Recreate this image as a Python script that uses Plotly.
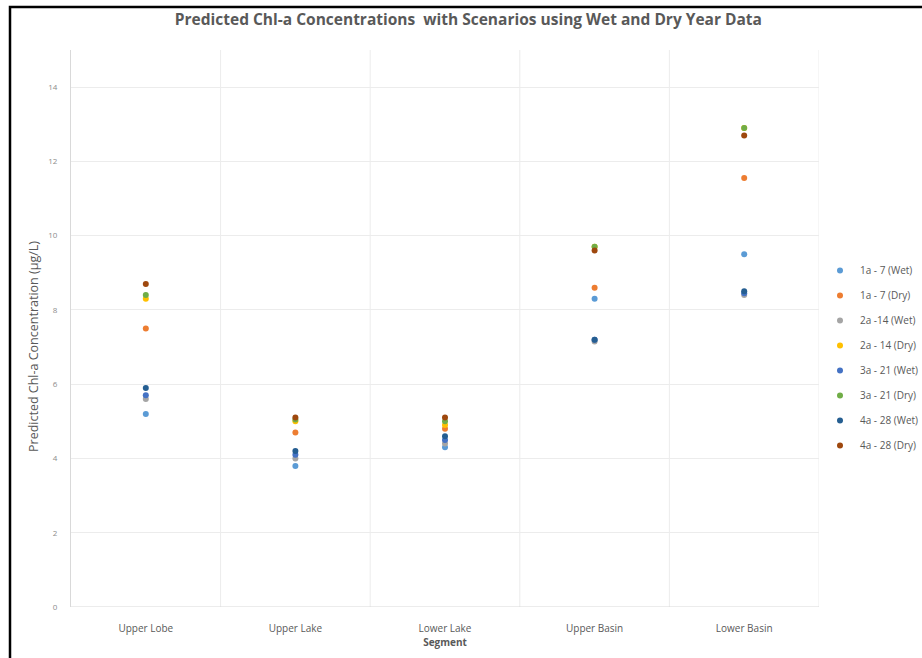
import plotly.graph_objects as go

segments = ["Upper Lobe", "Upper Lake", "Lower Lake", "Upper Basin", "Lower Basin"]

series_names = [
    "1a - 7 (Wet)", "1a - 7 (Dry)", "2a -14 (Wet)", "2a - 14 (Dry)",
    "3a - 21 (Wet)", "3a - 21 (Dry)", "4a - 28 (Wet)", "4a - 28 (Dry)",
]

s1a_wet = [5.2, 3.8, 4.3, 8.3, 9.5]
s1a_dry = [7.5, 4.7, 4.8, 8.6, 11.55]
s2a_wet = [5.6, 4.0, 4.4, 7.15, 8.4]
s2a_dry = [8.3, 5.0, 4.9, 9.7, 12.9]
s3a_wet = [5.7, 4.1, 4.5, 7.2, 8.45]
s3a_dry = [8.4, 5.05, 5.0, 9.7, 12.9]
s4a_wet = [5.9, 4.2, 4.6, 7.2, 8.5]
s4a_dry = [8.7, 5.1, 5.1, 9.6, 12.7]

series_values = [s1a_wet, s1a_dry, s2a_wet, s2a_dry, s3a_wet, s3a_dry, s4a_wet, s4a_dry]
colors = ["#5B9BD5", "#ED7D31", "#A5A5A5", "#FFC000",
          "#4472C4", "#70AD47", "#255E91", "#9E480E"]

y_ticks = [0, 2, 4, 6, 8, 10, 12, 14]

fig = go.Figure()
for i, (name, vals, col) in enumerate(zip(series_names, series_values, colors)):
    fig.add_trace(go.Scatter(
        x=segments, y=vals, mode="markers", name=name,
        legendgroup=f"g{i}",
        marker=dict(color=col, size=6, symbol="circle"),
    ))

font_main = "Open Sans, Liberation Sans, sans-serif"

L, R, T, B = 71, 103, 50, 51
W, H = 922, 658
plot_w = W - L - R
plot_h = H - T - B

fig.update_layout(
    width=W, height=H,
    margin=dict(l=L, r=R, t=T, b=B, autoexpand=False),
    paper_bgcolor="white", plot_bgcolor="white",
    title=dict(
        text="<b>Predicted Chl-a Concentrations  with Scenarios using Wet and Dry Year Data</b>",
        x=0.508, xanchor="center", y=1 - 20 / H, yanchor="middle",
        font=dict(family=font_main, size=15.5, color="#595959"),
    ),
    xaxis=dict(
        range=[-0.5, 4.5],
        showgrid=False,
        showline=False,
        zeroline=False,
        ticks="",
        ticklabelstandoff=14,
        tickfont=dict(family=font_main, size=10, color="#595959"),
        title=dict(text="<b>Segment</b>", font=dict(family=font_main, size=10, color="#595959"), standoff=3),
    ),
    yaxis=dict(
        range=[0, 15],
        tickvals=y_ticks,
        ticktext=[str(v) for v in y_ticks],
        showgrid=True, gridcolor="#ececec", gridwidth=1,
        zeroline=False,
        showline=True, linecolor="#d9d9d9", linewidth=1,
        ticks="",
        ticklabelstandoff=11,
        tickfont=dict(family=font_main, size=8, color="#8c8c8c"),
    ),
    legend=dict(
        xref="container", yref="container",
        x=820 / W, xanchor="left", y=1 - 256 / H, yanchor="top",
        traceorder="grouped", tracegroupgap=6,
        font=dict(family=font_main, size=10, color="#595959"),
        itemwidth=30,
        bgcolor="rgba(0,0,0,0)",
    ),
    showlegend=True,
    annotations=[dict(
        text="Predicted Chl-a Concentration (μg/L)",
        xref="paper", yref="paper",
        x=(33 - L) / plot_w, y=(H - B - 347) / plot_h,
        xanchor="center", yanchor="middle", textangle=-90, showarrow=False,
        font=dict(family=font_main, size=12.5, color="#595959"),
    )],
)

# vertical gridlines between categories and the plot edge
for xv in [0.5, 1.5, 2.5, 3.5, 4.5]:
    fig.add_shape(type="line", xref="x", yref="paper", x0=xv, x1=xv, y0=0, y1=1,
                  line=dict(color="#ececec", width=1), layer="below")
# bottom baseline
fig.add_shape(type="line", xref="paper", yref="y", x0=0, x1=1, y0=0, y1=0,
              line=dict(color="#d9d9d9", width=1), layer="below")

# outer black frame of the chart screenshot (left and top edges visible)
fig.add_shape(type="rect", xref="paper", yref="paper",
              x0=(10 - L) / plot_w, x1=(940 - L) / plot_w,
              y0=(H - B - 680) / plot_h, y1=(H - B - 7) / plot_h,
              line=dict(color="black", width=2.5), fillcolor="rgba(0,0,0,0)")

fig.write_html("out.html", config={"displayModeBar": False},
               post_script="document.body.style.margin='0';")
